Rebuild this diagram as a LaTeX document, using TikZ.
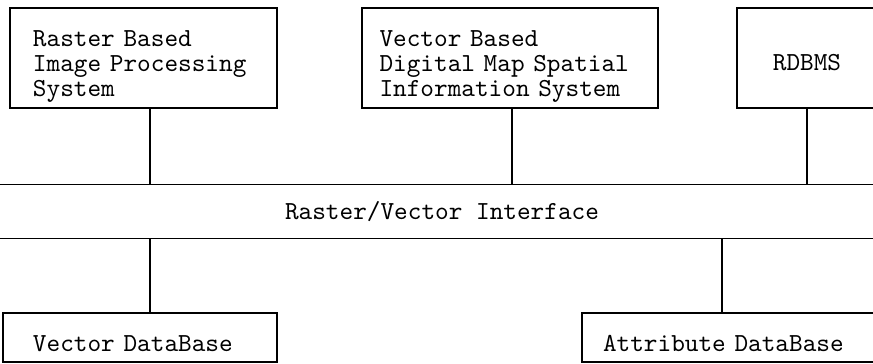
\documentclass[tikz,border=0pt]{standalone}
\usepackage{fontspec}
\usepackage{tikz}

% pushes the first text line of a box down
\newcommand{\lift}[1]{\rule{0pt}{#1}}

\tikzset{
  sysbox/.style={draw, rectangle, line width=0.6pt, inner ysep=0pt, align=left,
    font=\fontsize{10.4}{10}\selectfont\ttfamily},
  bus/.style={line width=0.6pt},
}

\begin{document}
\begin{tikzpicture}[x=0.4pt, y=-0.4pt]
        \useasboundingbox (0,0) rectangle (873,364);

        % upper systems
        \node[sysbox, inner xsep=9.2pt, text width=88.4pt, minimum height=40pt] at (143.5,58) (ras)
            {\lift{13pt}Raster Based\\Image Processing\\System};
        \node[sysbox, inner xsep=7pt, text width=104.4pt, minimum height=40pt] at (510,58) (vec)
            {\lift{13pt}Vector Based\\Digital Map Spatial\\Information System};
        \node[sysbox, align=center, minimum width=56pt, minimum height=40pt] at (807,58) (rdb)
            {\lift{10.4pt}RDBMS};

        % interface band
        \node[font=\fontsize{10.4}{10}\selectfont\ttfamily, minimum width=360pt, minimum height=21.2pt]
            at (442,211.5) (iface) {Raster/Vector Interface};
        \draw[bus] (iface.north west) -- (iface.north east);
        \draw[bus] (iface.south west) -- (iface.south east);

        % databases
        \node[sysbox, inner xsep=12pt, text width=85.6pt, minimum height=19.6pt] at (140,337.5) (vdb)
            {\lift{11.2pt}Vector DataBase};
        \node[sysbox, inner xsep=8.4pt, text width=103.2pt, minimum height=19.6pt] at (732,337.5) (adb)
            {\lift{11.2pt}Attribute DataBase};

        \draw[bus] ([xshift=2.6pt]ras.south) -- ([xshift=2.6pt]ras.south |- iface.north);
        \draw[bus] ([xshift=0.8pt]vec.south) -- ([xshift=0.8pt]vec.south |- iface.north);
        \draw[bus] (rdb.south) -- (rdb.south |- iface.north);
        \draw[bus] ([xshift=4pt]vdb.north) -- ([xshift=4pt]vdb.north |- iface.south);
        \draw[bus] ([xshift=-4pt]adb.north) -- ([xshift=-4pt]adb.north |- iface.south);
    \end{tikzpicture}
\end{document}
